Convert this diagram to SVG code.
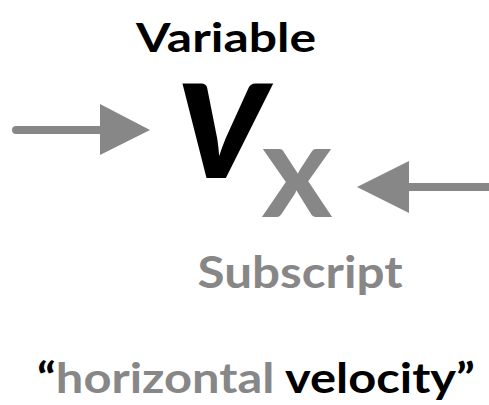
<svg xmlns="http://www.w3.org/2000/svg" width="489" height="405" viewBox="0 0 489 405">
<style>
.t{font-family:Lato,"Open Sans","Liberation Sans",sans-serif;font-weight:bold}
.g{fill:#878787}
.k{fill:#000}
.ln{stroke:#878787;stroke-width:8;stroke-linecap:round;fill:none}
</style>
<rect width="489" height="405" fill="#fff"/>
<g id="variable-label"><text class="t k" x="226" y="52" font-size="40" text-anchor="middle" textLength="180" lengthAdjust="spacingAndGlyphs">Variable</text></g>
<g id="v"><text class="t k" x="223" y="178" font-size="184" font-weight="900" font-style="italic" text-anchor="middle" textLength="92" lengthAdjust="spacingAndGlyphs">v</text></g>
<g id="x"><text class="t g" x="297" y="217" font-size="133" font-weight="900" text-anchor="middle" textLength="71" lengthAdjust="spacingAndGlyphs">x</text></g>
<g id="subscript-label"><text class="t g" x="300" y="288" font-size="44" text-anchor="middle" textLength="205" lengthAdjust="spacingAndGlyphs">Subscript</text></g>
<g id="meaning"><text class="t" x="37" y="393" font-size="42" textLength="438" lengthAdjust="spacingAndGlyphs"><tspan class="k">“</tspan><tspan class="g">horizontal</tspan><tspan class="k"> velocity”</tspan></text></g>
<g id="connectors">
<line class="ln" x1="16" y1="130" x2="102" y2="130"/>
<polygon class="g" points="100,104 150,130 100,155"/>
<line class="ln" x1="405" y1="187" x2="489" y2="187"/>
<polygon class="g" points="409,161 357,187 409,213"/>
</g>
</svg>
